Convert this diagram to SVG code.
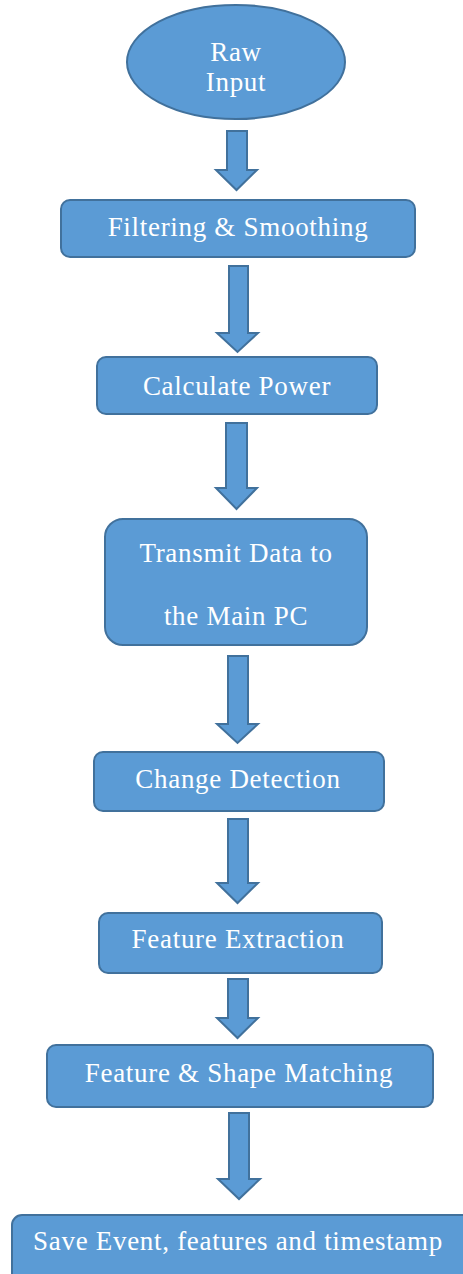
<svg xmlns="http://www.w3.org/2000/svg" width="463" height="1274" viewBox="0 0 463 1274">
<style>
.n{fill:#5B9BD5;stroke:#41719C;stroke-width:2}
.a{fill:#5B9BD5;stroke:#41719C;stroke-width:2;stroke-linejoin:miter}
.t{font-family:'Liberation Serif','Times New Roman',serif;font-size:27px;letter-spacing:0.7px;fill:#FFFFFF;text-anchor:middle}
</style>
<rect width="463" height="1274" fill="#FFFFFF"/>
<g id="connectors">
<polygon class="a" points="227,131 247,131 247,170 257,170 236.5,190 216,170 227,170"/>
<polygon class="a" points="229,266 248,266 248,333 258,333 237.5,352 217,333 229,333"/>
<polygon class="a" points="226,423 247,423 247,488 257,488 236.5,509 216,488 226,488"/>
<polygon class="a" points="228,656 248,656 248,724 258,724 237.5,743 217,724 228,724"/>
<polygon class="a" points="228,819 248,819 248,883 258,883 237.5,903 217,883 228,883"/>
<polygon class="a" points="228,979 248,979 248,1018 258,1018 237.5,1038 217,1018 228,1018"/>
<polygon class="a" points="229,1113 249,1113 249,1179 260,1179 239,1199 218,1179 229,1179"/>
</g>
<g id="raw-input">
<ellipse class="n" cx="236" cy="62" rx="109" ry="57"/>
<text class="t" x="236" y="61">Raw</text>
<text class="t" x="236" y="91">Input</text>
</g>
<g id="filtering">
<rect class="n" x="61" y="200" width="354" height="57" rx="9"/>
<text class="t" x="238" y="236">Filtering &amp; Smoothing</text>
</g>
<g id="calculate-power">
<rect class="n" x="97" y="357" width="280" height="57" rx="9"/>
<text class="t" x="237" y="395">Calculate Power</text>
</g>
<g id="transmit">
<rect class="n" x="105" y="519" width="262" height="126" rx="18"/>
<text class="t" x="236" y="562">Transmit Data to</text>
<text class="t" x="236" y="625">the Main PC</text>
</g>
<g id="change-detection">
<rect class="n" x="94" y="752" width="290" height="59" rx="9"/>
<text class="t" x="238" y="788">Change Detection</text>
</g>
<g id="feature-extraction">
<rect class="n" x="99" y="913" width="283" height="60" rx="9"/>
<text class="t" x="238" y="948">Feature Extraction</text>
</g>
<g id="feature-shape-matching">
<rect class="n" x="47" y="1045" width="386" height="62" rx="9"/>
<text class="t" x="239" y="1082">Feature &amp; Shape Matching</text>
</g>
<g id="save-event">
<rect class="n" x="12" y="1215" width="470" height="80" rx="10"/>
<text class="t" x="238" y="1250">Save Event, features and timestamp</text>
</g>
</svg>
